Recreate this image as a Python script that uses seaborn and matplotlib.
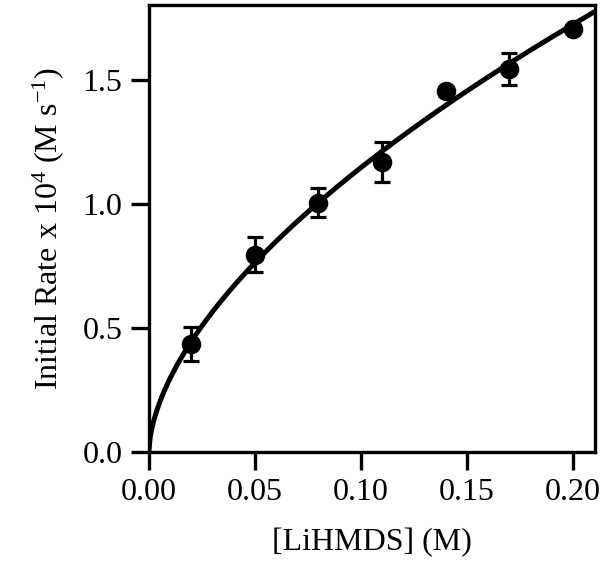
import numpy as np
import pandas as pd
import seaborn as sns
import matplotlib
matplotlib.use("Agg")
import matplotlib.pyplot as plt

# [LiHMDS] (M) vs initial rate (x 10^4 M/s)
conc = [0.02, 0.05, 0.08, 0.11, 0.14, 0.17, 0.20]
rate = [0.435, 0.795, 1.005, 1.170, 1.455, 1.543, 1.706]
rate_err = [0.068, 0.070, 0.058, 0.080, 0.018, 0.064, 0.012]
xticks = [0.00, 0.05, 0.10, 0.15, 0.20]
yticks = [0.0, 0.5, 1.0, 1.5]

df = pd.DataFrame({"conc": conc, "rate": rate, "err": rate_err})

# power-law fit rate = k * conc^n, done in log space
n, logk = np.polyfit(np.log(df["conc"]), np.log(df["rate"]), 1)
xfit = np.linspace(0, 0.21, 300)
fit = pd.DataFrame({"conc": xfit, "rate": np.exp(logk) * xfit ** n})

sns.set_style("ticks")
plt.rcParams["font.family"] = ["Liberation Serif", "DejaVu Serif"]
plt.rcParams["mathtext.fontset"] = "custom"
plt.rcParams["mathtext.rm"] = "Liberation Serif"
plt.rcParams["mathtext.it"] = "Liberation Serif:italic"

fig = plt.figure(figsize=(6, 5.64), dpi=100)
ax = fig.add_axes([0.248, 0.199, 0.744, 0.792])

sns.lineplot(data=fit, x="conc", y="rate", color="black", lw=3.6, ax=ax, zorder=2)
ax.errorbar(df["conc"], df["rate"], yerr=df["err"], fmt="none", ecolor="black",
            elinewidth=2.3, capsize=6, capthick=2.3, zorder=3)
sns.scatterplot(data=df, x="conc", y="rate", color="black", s=170, edgecolor="black",
                ax=ax, zorder=4)

ax.set_xlim(0, 0.2105)
ax.set_ylim(0, 1.802)
ax.set_xticks(xticks)
ax.set_xticklabels([f"{t:.2f}" for t in xticks])
ax.set_yticks(yticks)
ax.set_yticklabels([f"{t:.1f}" for t in yticks])

for s in ax.spines.values():
    s.set_linewidth(2.4)
    s.set_color("black")
    s.set_visible(True)
ax.tick_params(direction="out", length=13, width=2.4, labelsize=23, pad=6,
               colors="black", labelcolor="black")

ax.set_xlabel("[LiHMDS] (M)", fontsize=23, labelpad=15, color="black")
ax.set_ylabel("Initial Rate x 10$^{4}$ (M s$^{-1}$)", fontsize=23, labelpad=12,
              color="black")

fig.savefig("out.png", dpi=100)
